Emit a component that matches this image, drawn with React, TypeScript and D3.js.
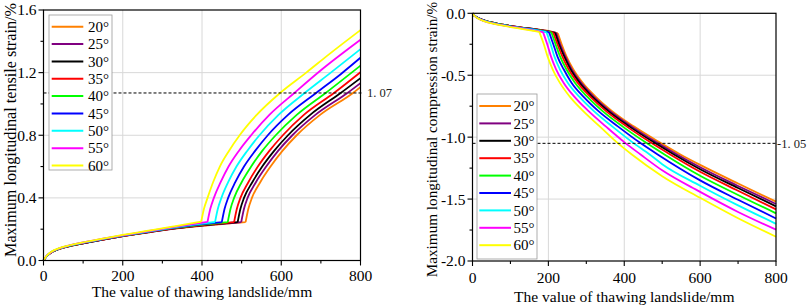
import React from "react";
import * as d3 from "d3";

type P = [number, number];

const angleLabels = ["20°", "25°", "30°", "35°", "40°", "45°", "50°", "55°", "60°"];
const seriesColors = ["#FF8000", "#800080", "#000000", "#FF0000", "#00FF00", "#0000FF", "#00FFFF", "#FF00FF", "#FFFF00"];

// Tensile strain (left chart), before the kink
const tensilePre: P[][] = [
  [[0,0],[8,0.027],[20,0.052],[40,0.074],[60,0.088],[100,0.110],[150,0.133],[200,0.155],[270,0.182],[330,0.203],[400,0.222],[460,0.235],[510,0.245]],
  [[0,0],[8,0.027],[20,0.052],[40,0.074],[60,0.088],[100,0.110],[150,0.133],[200,0.155],[270,0.182],[330,0.204],[400,0.223],[460,0.236],[499,0.245]],
  [[0,0],[8,0.027],[20,0.053],[40,0.075],[60,0.089],[100,0.110],[150,0.134],[200,0.156],[270,0.183],[330,0.205],[400,0.224],[490,0.245]],
  [[0,0],[8,0.028],[20,0.053],[40,0.075],[60,0.089],[100,0.111],[150,0.134],[200,0.156],[270,0.184],[330,0.206],[400,0.226],[481,0.245]],
  [[0,0],[8,0.028],[20,0.054],[40,0.076],[60,0.090],[100,0.112],[150,0.136],[200,0.158],[270,0.186],[330,0.208],[400,0.229],[465,0.245]],
  [[0,0],[8,0.029],[20,0.054],[40,0.077],[60,0.091],[100,0.113],[150,0.137],[200,0.159],[270,0.187],[330,0.210],[400,0.232],[450,0.245]],
  [[0,0],[8,0.029],[20,0.055],[40,0.077],[60,0.092],[100,0.114],[150,0.138],[200,0.160],[270,0.188],[330,0.212],[400,0.236],[433,0.246]],
  [[0,0],[8,0.030],[20,0.055],[40,0.078],[60,0.093],[100,0.115],[150,0.139],[200,0.161],[270,0.190],[330,0.215],[414,0.247]],
  [[0,0],[8,0.030],[20,0.056],[40,0.079],[60,0.094],[100,0.116],[150,0.140],[200,0.163],[270,0.192],[330,0.218],[398,0.248]],
];

// Tensile strain (left chart), after the kink
const tensilePost: P[][] = [
  [[510,0.245],[517,0.33],[526,0.40],[547,0.50],[573,0.60],[603,0.70],[639,0.80],[698,0.93],[781,1.07],[800,1.108]],
  [[499,0.245],[506,0.33],[515,0.40],[536,0.50],[562,0.60],[592,0.70],[628,0.80],[686,0.93],[767,1.07],[800,1.133]],
  [[490,0.245],[497,0.33],[506,0.40],[527,0.50],[552,0.60],[582,0.70],[617,0.80],[673,0.93],[750,1.07],[800,1.165]],
  [[481,0.245],[488,0.33],[497,0.40],[517,0.50],[541,0.60],[570,0.70],[604,0.80],[657,0.93],[733,1.07],[800,1.203]],
  [[465,0.245],[472,0.33],[481,0.40],[500,0.50],[524,0.60],[552,0.70],[586,0.80],[639,0.93],[712,1.07],[800,1.245]],
  [[450,0.245],[457,0.33],[466,0.40],[484,0.50],[506,0.60],[534,0.70],[566,0.80],[617,0.93],[688,1.07],[750,1.19],[800,1.295]],
  [[433,0.246],[440,0.33],[449,0.40],[466,0.50],[487,0.60],[514,0.70],[545,0.80],[593,0.93],[659,1.07],[725,1.20],[800,1.35]],
  [[414,0.247],[421,0.33],[430,0.40],[447,0.50],[467,0.60],[493,0.70],[524,0.80],[570,0.93],[633,1.07],[700,1.215],[800,1.41]],
  [[398,0.248],[405,0.33],[414,0.40],[428,0.50],[445,0.60],[468,0.70],[495,0.80],[538,0.93],[597,1.07],[663,1.20],[722,1.32],[800,1.472]],
];

// Compression strain (right chart), before the kink
const compressionPre: P[][] = [
  [[0,0],[5,-0.018],[20,-0.045],[45,-0.07],[80,-0.092],[125,-0.113],[170,-0.13],[200,-0.142],[225,-0.162]],
  [[0,0],[5,-0.018],[20,-0.045],[45,-0.07],[80,-0.092],[125,-0.113],[170,-0.13],[200,-0.143],[221,-0.159]],
  [[0,0],[5,-0.018],[20,-0.045],[45,-0.07],[80,-0.092],[125,-0.113],[170,-0.131],[218,-0.158]],
  [[0,0],[5,-0.018],[20,-0.046],[45,-0.071],[80,-0.093],[125,-0.114],[170,-0.132],[213,-0.156]],
  [[0,0],[5,-0.019],[20,-0.047],[45,-0.072],[80,-0.094],[125,-0.116],[170,-0.133],[208,-0.155]],
  [[0,0],[5,-0.019],[20,-0.047],[45,-0.073],[80,-0.095],[125,-0.117],[170,-0.135],[202,-0.154]],
  [[0,0],[5,-0.019],[20,-0.048],[45,-0.074],[80,-0.096],[125,-0.118],[170,-0.138],[195,-0.153]],
  [[0,0],[5,-0.02],[20,-0.049],[45,-0.076],[80,-0.098],[125,-0.12],[186,-0.152]],
  [[0,0],[5,-0.02],[20,-0.05],[45,-0.077],[80,-0.1],[125,-0.123],[176,-0.15]],
];

// Compression strain (right chart), after the kink
const compressionPost: P[][] = [
  [[225,-0.162],[235,-0.25],[248,-0.35],[265,-0.45],[290,-0.56],[325,-0.675],[368,-0.79],[426,-0.915],[492,-1.04],[548,-1.14],[600,-1.224],[700,-1.374],[800,-1.521]],
  [[221,-0.159],[231,-0.25],[245,-0.35],[261,-0.45],[286,-0.56],[320,-0.675],[363,-0.79],[420,-0.915],[484,-1.04],[539,-1.14],[600,-1.243],[700,-1.394],[800,-1.54]],
  [[218,-0.158],[228,-0.25],[242,-0.35],[258,-0.45],[282,-0.56],[316,-0.675],[358,-0.79],[414,-0.915],[477,-1.04],[531,-1.14],[600,-1.259],[700,-1.411],[800,-1.559]],
  [[213,-0.156],[224,-0.25],[237,-0.35],[253,-0.45],[277,-0.56],[311,-0.675],[352,-0.79],[407,-0.915],[468,-1.04],[521,-1.14],[600,-1.28],[700,-1.433],[800,-1.583]],
  [[208,-0.155],[219,-0.25],[231,-0.35],[247,-0.45],[270,-0.56],[303,-0.675],[343,-0.79],[396,-0.915],[455,-1.04],[506,-1.14],[600,-1.312],[700,-1.467],[800,-1.615]],
  [[202,-0.154],[213,-0.25],[224,-0.35],[240,-0.45],[261,-0.56],[293,-0.675],[332,-0.79],[384,-0.915],[439,-1.04],[488,-1.14],[600,-1.349],[700,-1.506],[800,-1.657]],
  [[195,-0.153],[206,-0.25],[216,-0.35],[230,-0.45],[251,-0.56],[282,-0.675],[320,-0.79],[369,-0.915],[421,-1.04],[467,-1.14],[500,-1.218],[600,-1.392],[700,-1.551],[800,-1.70]],
  [[186,-0.152],[197,-0.25],[207,-0.35],[220,-0.45],[240,-0.56],[269,-0.675],[306,-0.79],[352,-0.915],[400,-1.04],[443,-1.14],[500,-1.268],[600,-1.442],[700,-1.604],[800,-1.747]],
  [[176,-0.15],[188,-0.25],[198,-0.35],[211,-0.45],[230,-0.56],[257,-0.675],[292,-0.79],[336,-0.915],[380,-1.04],[420,-1.14],[500,-1.315],[600,-1.49],[700,-1.655],[800,-1.804]],
];

const xTicks = [0, 200, 400, 600, 800];
const xMinor = [100, 300, 500, 700];
const tensileYTicks = [0, 0.4, 0.8, 1.2, 1.6];
const tensileYMinor = [0.2, 0.6, 1.0, 1.4];
const compressionYTicks = [0, -0.5, -1.0, -1.5, -2.0];
const compressionYMinor = [-0.25, -0.75, -1.25, -1.75];
const tensileLimit = 1.07;
const compressionLimit = -1.05;
const tensileLimitLabel = "1. 07";
const compressionLimitLabel = "-1. 05";
const xTitle = "The value of thawing landslide/mm";
const tensileTitle = "Maximum longitudinal tensile strain/%";
const compressionTitle = "Maximum longitudinal compression strain/%";

const FONT = "'Liberation Serif', 'Times New Roman', serif";

interface ChartProps {
  left: number; right: number; top: number; bottom: number;
  yDomain: [number, number];
  yTicks: number[]; yMinor: number[];
  pre: P[][]; post: P[][];
  limit: number; limitLabel: string; limitLabelX: number; limitLineEnd: number;
  yTitle: string; yTitleX: number; yTitleY: number; yTitleSize: number; xTitleY: number; xLabelY: number;
  legend: { x0: number; x1: number; y0: number; y1: number; lineX0: number; lineX1: number; textX: number; rowY0: number; rowStep: number };
}

function fmt(t: number): string {
  const s = Math.abs(t).toFixed(1);
  return t < 0 ? "-" + s : s;
}

function Chart(p: ChartProps) {
  const x = d3.scaleLinear().domain([0, 800]).range([p.left, p.right]);
  const y = d3.scaleLinear().domain(p.yDomain).range([p.bottom, p.top]);
  const line = d3.line<P>().x(d => x(d[0])).y(d => y(d[1])).curve(d3.curveMonotoneX);
  const gridColor = "#d8d8d8";
  const majorLen = 5;
  const minorLen = 3;
  const midX = (p.left + p.right) / 2;
  const L = p.legend;
  return (
    <g>
      {xTicks.filter(t => t !== 0 && t !== 800).map(t => (
        <line key={"gx" + t} x1={x(t)} x2={x(t)} y1={p.top} y2={p.bottom} stroke={gridColor} strokeWidth={1} />
      ))}
      {p.yTicks.filter(t => t !== p.yDomain[0] && t !== p.yDomain[1]).map(t => (
        <line key={"gy" + t} x1={p.left} x2={p.right} y1={y(t)} y2={y(t)} stroke={gridColor} strokeWidth={1} />
      ))}
      {p.pre.map((s, i) => (
        <path key={"c" + i} d={(line(s) || "") + (line(p.post[i]) || "")} fill="none" stroke={seriesColors[i]} strokeWidth={1.8} strokeLinejoin="round" />
      ))}
      <line x1={p.left} x2={p.limitLineEnd} y1={y(p.limit)} y2={y(p.limit)} stroke="#000" strokeWidth={1} strokeDasharray="3,2" />
      <text x={p.limitLabelX} y={y(p.limit)} dy="0.35em" fontSize={12.5} fontFamily={FONT} fill="#222">{p.limitLabel}</text>
      <rect x={p.left} y={p.top} width={p.right - p.left} height={p.bottom - p.top} fill="none" stroke="#000" strokeWidth={1.2} />
      {xTicks.map(t => (
        <g key={"xt" + t}>
          <line x1={x(t)} x2={x(t)} y1={p.bottom} y2={p.bottom + majorLen} stroke="#000" strokeWidth={1.1} />
          <text x={x(t)} y={p.xLabelY} textAnchor="middle" fontSize={15.5} fontFamily={FONT} fill="#000">{String(t)}</text>
        </g>
      ))}
      {xMinor.map(t => (
        <line key={"xm" + t} x1={x(t)} x2={x(t)} y1={p.bottom} y2={p.bottom + minorLen} stroke="#000" strokeWidth={1.1} />
      ))}
      <text transform={`translate(${p.yTitleX},${p.yTitleY}) rotate(-90)`} textAnchor="middle" fontSize={p.yTitleSize} fontFamily={FONT} fill="#000">{p.yTitle}</text>
      {p.yTicks.map(t => (
        <g key={"yt" + t}>
          <line x1={p.left - majorLen} x2={p.left} y1={y(t)} y2={y(t)} stroke="#000" strokeWidth={1.1} />
          <text x={p.left - 7} y={y(t)} dy="0.35em" textAnchor="end" fontSize={15.5} fontFamily={FONT} fill="#000">{fmt(t)}</text>
        </g>
      ))}
      {p.yMinor.map(t => (
        <line key={"ym" + t} x1={p.left - minorLen} x2={p.left} y1={y(t)} y2={y(t)} stroke="#000" strokeWidth={1.1} />
      ))}
      <text x={midX} y={p.xTitleY} textAnchor="middle" fontSize={15.5} fontFamily={FONT} fill="#000">{xTitle}</text>
      <rect x={L.x0} y={L.y0} width={L.x1 - L.x0} height={L.y1 - L.y0} fill="#fff" stroke="#9a9a9a" strokeWidth={0.8} />
      {angleLabels.map((lab, i) => {
        const ry = L.rowY0 + i * L.rowStep;
        return (
          <g key={"lg" + i}>
            <line x1={L.lineX0} x2={L.lineX1} y1={ry} y2={ry} stroke={seriesColors[i]} strokeWidth={2} />
            <text x={L.textX} y={ry} dy="0.35em" fontSize={15} fontFamily={FONT} fill="#000">{lab}</text>
          </g>
        );
      })}
    </g>
  );
}

export default function App() {
  return (
    <svg width={809} height={308} viewBox="0 0 809 308" style={{ position: "absolute", left: 0, top: 0, background: "#fff" }}>
      <rect x={0} y={0} width={809} height={308} fill="#fff" />
      <Chart
        left={43.5} right={360.5} top={10} bottom={260.5}
        yDomain={[0, 1.6]} yTicks={tensileYTicks} yMinor={tensileYMinor}
        pre={tensilePre} post={tensilePost}
        limit={tensileLimit} limitLabel={tensileLimitLabel} limitLabelX={367} limitLineEnd={363}
        yTitle={tensileTitle} yTitleX={15.5} yTitleY={130} yTitleSize={16.2} xTitleY={297} xLabelY={281}
        legend={{ x0: 49, x1: 112, y0: 15, y1: 170, lineX0: 51.7, lineX1: 83.3, textX: 88, rowY0: 26.7, rowStep: 17.35 }}
      />
      <Chart
        left={472.5} right={776} top={13.3} bottom={261}
        yDomain={[-2, 0]} yTicks={compressionYTicks} yMinor={compressionYMinor}
        pre={compressionPre} post={compressionPost}
        limit={compressionLimit} limitLabel={compressionLimitLabel} limitLabelX={777} limitLineEnd={776}
        yTitle={compressionTitle} yTitleX={437} yTitleY={139.5} yTitleSize={15.2} xTitleY={302} xLabelY={282.5}
        legend={{ x0: 477, x1: 537, y0: 94, y1: 259, lineX0: 479.3, lineX1: 511, textX: 513.5, rowY0: 106, rowStep: 17.4 }}
      />
    </svg>
  );
}
